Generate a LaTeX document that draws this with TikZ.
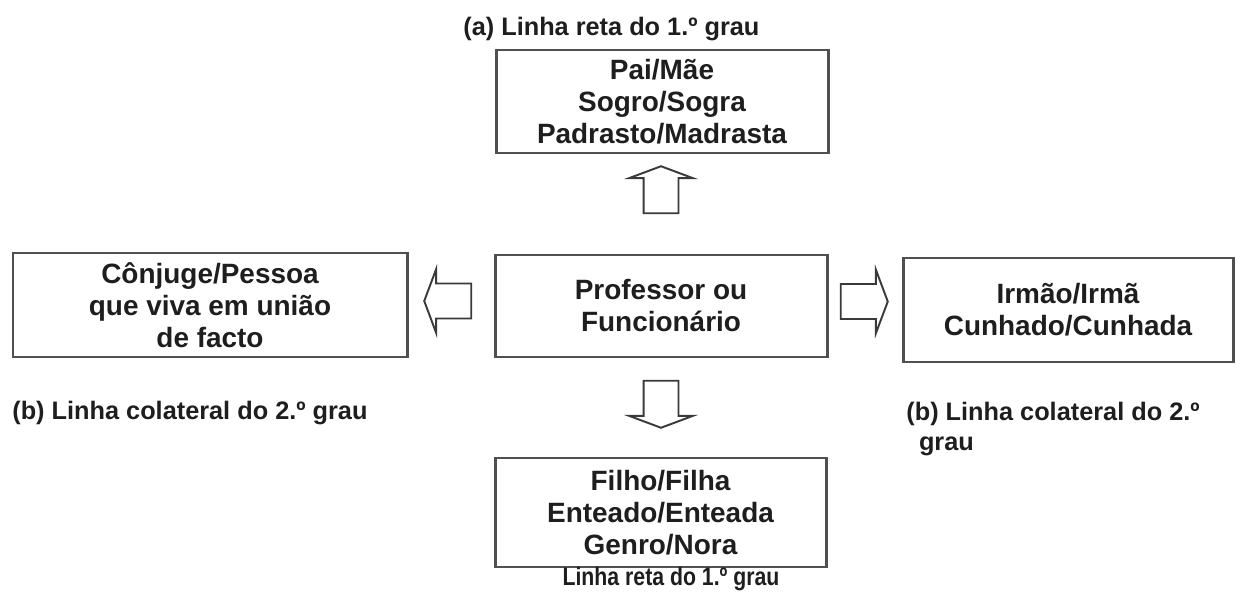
\documentclass[tikz,border=0pt]{standalone}
\usepackage{fontspec}
\usepackage{graphicx}
\setmainfont{Liberation Sans}
\usetikzlibrary{shapes.arrows}
\definecolor{boxgray}{HTML}{505050}
\definecolor{inkgray}{HTML}{1E1E1E}
\definecolor{arrowgray}{HTML}{3A3A3A}
\newcommand{\boxfont}{\fontsize{15.9}{18.2}\selectfont\bfseries}
\newcommand{\labfont}{\fontsize{14.4}{17}\selectfont\bfseries}
\newcommand{\narrow}[1]{\scalebox{0.84}[1]{#1}}

\begin{document}
\begin{tikzpicture}[
  kin/.style={draw=boxgray, line width=1.7pt, align=center, inner sep=0pt, font=\boxfont, text=inkgray},
  grau/.style={font=\labfont, text=inkgray, inner sep=0pt, align=left},
  bigarrow/.style={single arrow, draw=arrowgray, line width=1.1pt, minimum height=0.94cm, single arrow head extend=0.29cm, single arrow tip angle=139, inner sep=0.33cm}
]
\useasboundingbox (0,0) rectangle (24.72,11.86);

\node[kin, minimum width=6.64cm, minimum height=2.06cm] (pais) at (13.24,9.83) {Pai/Mãe\\Sogro/Sogra\\Padrasto/Madrasta};
\node[kin, minimum width=6.64cm, minimum height=2.04cm] (prof) at (13.22,5.74) {Professor ou\\Funcionário};
\node[kin, minimum width=7.88cm, minimum height=2.08cm] (conj) at (4.20,5.76) {Cônjuge/Pessoa\\que viva em união\\de facto};
\node[kin, minimum width=6.60cm, minimum height=2.08cm] (irmaos) at (21.36,5.66) {Irmão/Irmã\\Cunhado/Cunhada};
\node[kin, minimum width=6.62cm, minimum height=2.18cm] (filhos) at (13.21,1.61) {Filho/Filha\\Enteado/Enteada\\Genro/Nora};

\node[bigarrow, shape border rotate=90] (up) at (13.22,8.00) {};
\node[bigarrow, shape border rotate=270] (down) at (13.22,3.84) {};
\node[bigarrow, shape border rotate=180] (left) at (9.02,5.84) {};
\node[bigarrow] (right) at (17.22,5.83) {};

\node[grau, anchor=base west] (ga) at (9.26,11.14) {(a) Linha reta do 1.º grau};
\node[grau, anchor=base west] (gb) at (0.24,3.48) {(b) Linha colateral do 2.º grau};
\node[grau, anchor=base west] (gc) at (18.12,2.86) {(b) Linha colateral do 2.º\\\hspace{0.5em}grau};
\node[grau, anchor=base] (gd) at (13.42,0.16) {\narrow{Linha reta do 1.º grau}};

\end{tikzpicture}
\end{document}
